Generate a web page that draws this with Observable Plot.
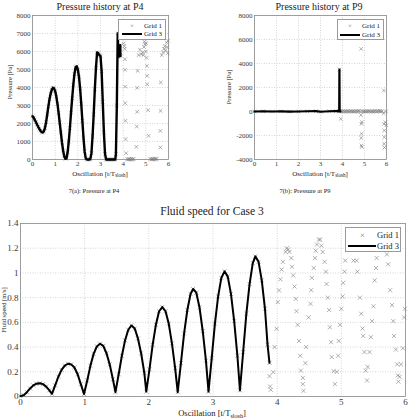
<!DOCTYPE html>
<html><head><meta charset="utf-8">
<script src="https://cdn.jsdelivr.net/npm/d3@7"></script>
<script src="https://cdn.jsdelivr.net/npm/@observablehq/plot@0.6"></script>
<style>
body{margin:0;background:#fff;}
#root{position:relative;width:408px;height:419px;overflow:hidden;font-family:"Liberation Serif","Times New Roman",serif;color:#222;}
#root svg, #root svg text{font-family:"Liberation Serif","Times New Roman",serif !important;}
.t{position:absolute;white-space:nowrap;line-height:1;transform:translate(-50%,-50%);}
.r{transform:translate(-50%,-50%) rotate(-90deg);}
.panel{position:absolute;}
.leg{position:absolute;border:1px solid #9a9a9a;background:#fff;box-sizing:border-box;}
.leg span{position:absolute;white-space:nowrap;line-height:1;transform:translateY(-50%);}
.leg i{position:absolute;height:0;border-top:2px solid #000;}
sub{font-size:72%;vertical-align:-0.35em;line-height:0}
</style></head><body><div id="root"></div>
<script>
// ---------- shared ticks ----------
const xTicks = [0, 1, 2, 3, 4, 5, 6];
const p4YTicks = [0, 1000, 2000, 3000, 4000, 5000, 6000, 7000, 8000];
const p9YTicks = [-4000, -2000, 0, 2000, 4000, 6000, 8000];
const speedYTicks = [0, 0.2, 0.4, 0.6, 0.8, 1, 1.2, 1.4];
const seriesNames = ["Grid 1", "Grid 3"];

// ---------- Pressure at P4 ----------
const p4Grid3 = [
  [0.00,2400],[0.05,2330],[0.10,2200],[0.15,2080],[0.20,1950],[0.25,1820],[0.30,1700],[0.35,1600],
  [0.40,1530],[0.45,1500],[0.50,1560],[0.55,1750],[0.60,2080],[0.65,2500],[0.70,2950],[0.75,3350],
  [0.80,3650],[0.85,3870],[0.90,3980],[0.95,3950],[1.00,3800],[1.05,3500],[1.10,3100],[1.15,2600],
  [1.20,2050],[1.25,1500],[1.30,950],[1.35,500],[1.40,180],[1.45,40],[1.50,60],[1.55,400],
  [1.60,1000],[1.65,1750],[1.70,2600],[1.75,3400],[1.80,4150],[1.85,4750],[1.90,5120],[1.95,5180],
  [2.00,5000],[2.05,4600],[2.10,3950],[2.15,3100],[2.20,2150],[2.25,1200],[2.30,450],[2.35,60],
  [2.40,0],[2.45,0],[2.50,0],[2.55,20],[2.60,350],[2.65,1300],[2.70,2500],[2.75,3900],
  [2.80,5100],[2.85,5950],[2.90,5900],[2.95,5800],[3.00,5750],[3.05,4900],[3.10,3200],[3.15,1500],
  [3.20,300],[3.25,0],[3.30,0],[3.35,0],[3.40,0],[3.45,0],[3.50,0],[3.55,0],[3.60,0],[3.65,0],
  [3.68,300],[3.72,3000],[3.76,7000],[3.79,5700],[3.84,5800],[3.87,6350],[3.88,5750]
];
const p4Grid1Late = [
  [4.02,6450],[4.05,6300],[4.07,6150],[4.08,5570],[4.08,4980],[4.09,4055],[4.09,3130],[4.10,2150],
  [4.11,1130],[4.13,350],[4.18,20],[4.22,0],[4.26,30],[4.30,0],[4.34,10],[4.38,40],[4.42,0],[4.46,20],
  [4.58,705],[4.60,1830],[4.62,2650],[4.62,3980],[4.64,4925],[4.68,5800],[4.74,6100],[4.80,5850],
  [4.86,5950],[4.89,5800],[4.92,6250],[4.94,6540],[4.97,6400],[5.01,6460],[5.00,6000],[5.03,5650],
  [5.05,5200],[5.06,4650],[5.06,4180],[5.10,2740],[5.12,1315],[5.20,30],[5.24,0],[5.28,20],[5.32,40],
  [5.36,0],[5.40,60],[5.44,10],[5.48,30],[5.64,670],[5.64,1590],[5.65,2700],[5.66,4280],[5.70,5800],
  [5.76,5950],[5.80,6150],[5.84,6300],[5.88,6050],[5.92,6500],[5.95,6250],[5.98,6600],[5.97,5900]
];

// ---------- Pressure at P9 ----------
const p9Grid3 = [
  [0.00,0],[0.40,20],[0.80,0],[1.20,10],[1.60,-10],[2.00,0],[2.40,20],[2.80,30],[3.00,-20],
  [3.40,20],[3.70,40],[3.85,30],[3.86,3500],[3.87,0],[3.90,10]
];
const p9Grid1Late = [
  [3.92,-610],[3.95,20],[4.00,0],[4.05,30],[4.10,-10],[4.15,20],[4.20,0],[4.25,40],[4.30,-20],
  [4.35,10],[4.40,30],[4.45,0],[4.50,20],[4.55,-10],[4.60,40],[4.65,0],[4.70,20],[4.75,60],[4.80,0],
  [4.85,5220],[4.84,-300],[4.86,-1030],[4.87,-1860],[4.85,-2200],[4.86,-2830],[4.88,-2950],
  [4.88,-890],[4.90,20],[4.95,0],[5.00,30],[5.05,-10],[5.10,20],[5.15,0],[5.20,40],[5.25,10],
  [5.30,-20],[5.35,30],[5.40,0],[5.45,20],[5.50,40],[5.55,0],[5.60,30],[5.65,10],[5.70,50],[5.75,0],
  [5.80,20],[5.88,1750],[5.87,-140],[5.88,-1030],[5.90,-1580],[5.90,-2140],[5.89,-2700],[5.91,-3000],
  [5.95,-900],[5.99,-1150],[5.98,0]
];

// ---------- Fluid speed ----------
const speedGrid3 = [
  [0.00,0.003],[0.05,0.010],[0.10,0.035],[0.15,0.065],[0.20,0.090],[0.25,0.104],[0.30,0.107],[0.35,0.100],
  [0.40,0.080],[0.45,0.050],[0.49,0.022],
  [0.54,0.090],[0.59,0.160],[0.64,0.215],[0.69,0.250],[0.74,0.265],[0.79,0.260],[0.84,0.235],[0.89,0.180],
  [0.94,0.100],[0.99,0.020],
  [1.04,0.130],[1.09,0.250],[1.14,0.345],[1.19,0.405],[1.24,0.427],[1.29,0.410],[1.34,0.350],[1.39,0.260],
  [1.44,0.140],[1.48,0.035],
  [1.53,0.180],[1.58,0.330],[1.63,0.455],[1.68,0.540],[1.73,0.575],[1.78,0.550],[1.83,0.470],[1.88,0.350],
  [1.93,0.190],[1.96,0.040],
  [2.01,0.220],[2.06,0.420],[2.11,0.580],[2.16,0.690],[2.21,0.724],[2.26,0.690],[2.31,0.590],[2.36,0.430],
  [2.41,0.230],[2.45,0.035],
  [2.50,0.270],[2.55,0.510],[2.60,0.700],[2.65,0.830],[2.69,0.870],[2.74,0.840],[2.79,0.720],[2.84,0.530],
  [2.89,0.290],[2.93,0.040],
  [2.98,0.310],[3.03,0.590],[3.08,0.810],[3.13,0.960],[3.18,1.013],[3.23,0.970],[3.28,0.830],[3.33,0.610],
  [3.38,0.330],[3.42,0.050],
  [3.47,0.360],[3.52,0.670],[3.57,0.910],[3.62,1.080],[3.66,1.134],[3.71,1.090],[3.76,0.940],[3.81,0.710],
  [3.85,0.420],[3.88,0.273]
];
const speedGrid1Late = [
  [3.88,0.165],[3.89,0.081],[3.90,0.054],[3.94,0.197],[3.96,0.40],[3.99,0.548],[4.01,0.764],[4.03,0.859],
  [4.05,0.948],[4.07,1.027],[4.09,1.09],[4.13,1.17],[4.15,1.20],[4.17,1.19],[4.19,1.17],[4.22,1.12],
  [4.23,1.05],[4.25,0.98],[4.27,0.89],[4.29,0.79],[4.30,0.69],[4.32,0.58],[4.34,0.45],[4.36,0.33],
  [4.37,0.21],[4.40,0.151],[4.40,0.10],[4.41,0.046],[4.44,0.27],[4.45,0.40],[4.49,0.64],[4.52,0.75],
  [4.53,0.86],[4.54,0.96],[4.57,1.04],[4.59,1.12],[4.60,1.18],[4.62,1.23],[4.65,1.27],[4.67,1.27],
  [4.69,1.22],[4.71,1.17],[4.74,1.09],[4.76,1.01],[4.77,0.91],[4.79,0.80],[4.81,0.70],[4.82,0.56],
  [4.84,0.44],[4.85,0.32],[4.88,0.205],[4.90,0.10],[4.93,0.20],[4.95,0.33],[4.96,0.45],[4.98,0.58],
  [5.00,0.71],[5.02,0.81],[5.03,0.92],[5.05,1.01],[5.06,1.10],[5.19,1.10],[5.24,1.10],[5.25,1.01],
  [5.29,0.80],[5.31,0.67],[5.33,0.55],[5.34,0.49],[5.36,0.36],[5.38,0.21],[5.40,0.13],[5.41,0.24],
  [5.44,0.36],[5.46,0.48],[5.48,0.61],[5.50,0.73],[5.52,0.94],[5.54,1.04],[5.55,1.12],[5.71,1.15],
  [5.73,1.07],[5.76,0.86],[5.79,0.74],[5.81,0.61],[5.82,0.49],[5.85,0.38],[5.87,0.26],[5.88,0.17],
  [5.89,0.12],[5.91,0.16],[5.93,0.26],[5.96,0.39],[5.98,0.64],[5.99,0.71]
];

// ---------- texts ----------
const titles = ["Pressure history at P4", "Pressure history at P9", "Fluid speed for Case 3"];
const captions = ["7(a):  Pressure at P4", "7(b):  Pressure at P9"];
const yLabels = ["Pressure [Pa]", "Pressure [Pa]", "Fluid speed [m/s]"];

const root = document.getElementById("root");
const FONT = "'Liberation Serif', 'Times New Roman', serif";

function text(html, x, y, size, cls = "") {
  const d = document.createElement("div");
  d.className = "t " + cls;
  d.style.left = x + "px"; d.style.top = y + "px"; d.style.fontSize = size + "px";
  d.innerHTML = html;
  root.appendChild(d);
}

function panel(o) {
  const fmt = d => String(d);
  const chart = Plot.plot({
    width: o.width, height: o.height,
    marginLeft: o.ml, marginRight: o.mr, marginTop: o.mt, marginBottom: o.mb,
    style: {fontFamily: FONT, fontSize: o.fs + "px", color: "#3a3a3a", background: "transparent", overflow: "visible"},
    x: {domain: [0, 6]},
    y: {domain: o.yDomain},
    marks: [
      Plot.gridX(xTicks, {stroke: "#c4c4c4", strokeOpacity: 1, strokeDasharray: "1,1.5", strokeWidth: 0.7}),
      Plot.gridY(o.yTicks, {stroke: "#c4c4c4", strokeOpacity: 1, strokeDasharray: "1,1.5", strokeWidth: 0.7}),
      Plot.frame({stroke: "#8a8a8a", strokeWidth: 0.8}),
      Plot.dot(o.grid1, {x: d => d[0], y: d => d[1], symbol: "times", r: o.r, stroke: "#7a7a7a", strokeWidth: 0.6}),
      Plot.line(o.grid3, {x: d => d[0], y: d => d[1], stroke: "#000", strokeWidth: o.lw}),
      Plot.axisX(xTicks, {tickSize: 0, tickPadding: o.txp, label: null, tickFormat: fmt}),
      Plot.axisY(o.yTicks, {tickSize: 0, tickPadding: 2, label: null, tickFormat: fmt})
    ]
  });
  const wrap = document.createElement("div");
  wrap.className = "panel";
  wrap.style.left = o.left + "px"; wrap.style.top = o.top + "px";
  wrap.appendChild(chart);
  root.appendChild(wrap);
}

function legend(o) {
  const b = document.createElement("div");
  b.className = "leg";
  b.style.left = o.x + "px"; b.style.top = o.y + "px";
  b.style.width = o.w + "px"; b.style.height = o.h + "px";
  b.style.fontSize = o.fs + "px";
  const m = document.createElement("span");
  m.textContent = "×"; m.style.color = "#7a7a7a";
  m.style.left = o.mx + "px"; m.style.top = o.y1 + "px";
  b.appendChild(m);
  const t1 = document.createElement("span");
  t1.textContent = seriesNames[0]; t1.style.left = o.tx + "px"; t1.style.top = o.y1 + "px";
  b.appendChild(t1);
  const ln = document.createElement("i");
  ln.style.left = o.lx + "px"; ln.style.width = o.lw + "px"; ln.style.top = (o.y2 - 1) + "px";
  b.appendChild(ln);
  const t2 = document.createElement("span");
  t2.textContent = seriesNames[1]; t2.style.left = o.tx + "px"; t2.style.top = o.y2 + "px";
  b.appendChild(t2);
  root.appendChild(b);
}

// Panel A: P4
panel({left: 0, top: 0, width: 204, height: 200, ml: 32, mr: 36, mt: 15, mb: 41, fs: 7, txp: 2,
  yDomain: [0, 8000], yTicks: p4YTicks, grid3: p4Grid3, grid1: p4Grid3.concat(p4Grid1Late), lw: 2.4, r: 1.8});
// Panel B: P9
panel({left: 204, top: 0, width: 204, height: 200, ml: 50, mr: 22, mt: 15, mb: 41, fs: 7, txp: 2,
  yDomain: [-4000, 8000], yTicks: p9YTicks, grid3: p9Grid3, grid1: p9Grid3.concat(p9Grid1Late), lw: 2.2, r: 1.8});
// Panel C: speed
panel({left: 0, top: 200, width: 408, height: 219, ml: 20, mr: 3, mt: 23, mb: 23, fs: 9, txp: 2,
  yDomain: [0, 1.4], yTicks: speedYTicks, grid3: speedGrid3, grid1: speedGrid3.concat(speedGrid1Late), lw: 2, r: 2});

// titles
text(titles[0], 100, 7, 10);
text(titles[1], 319, 7, 10);
text(titles[2], 212, 212, 11.5);
// x labels
const xl = "Oscillation [t/T<sub>slosh</sub>]";
text(xl, 100, 174, 7);
text(xl, 320, 174, 7);
text(xl, 212, 413, 8.5);
// y labels
text(yLabels[0], 10, 82, 6.5, "r");
text(yLabels[1], 229, 87, 6.5, "r");
text(yLabels[2], 3.5, 310, 6.5, "r");
// captions
text(captions[0], 94, 191, 6.5);
text(captions[1], 305, 191, 6.5);

// legends
legend({x: 118, y: 19, w: 48, h: 21, fs: 7, mx: 11, tx: 25, y1: 5.5, y2: 14, lx: 3, lw: 20});
legend({x: 337, y: 19, w: 47, h: 21, fs: 7, mx: 10, tx: 24, y1: 5.5, y2: 14.5, lx: 2, lw: 20});
legend({x: 345, y: 227, w: 56, h: 25, fs: 8.5, mx: 14, tx: 31, y1: 7, y2: 18, lx: 2, lw: 28});
</script></body></html>
